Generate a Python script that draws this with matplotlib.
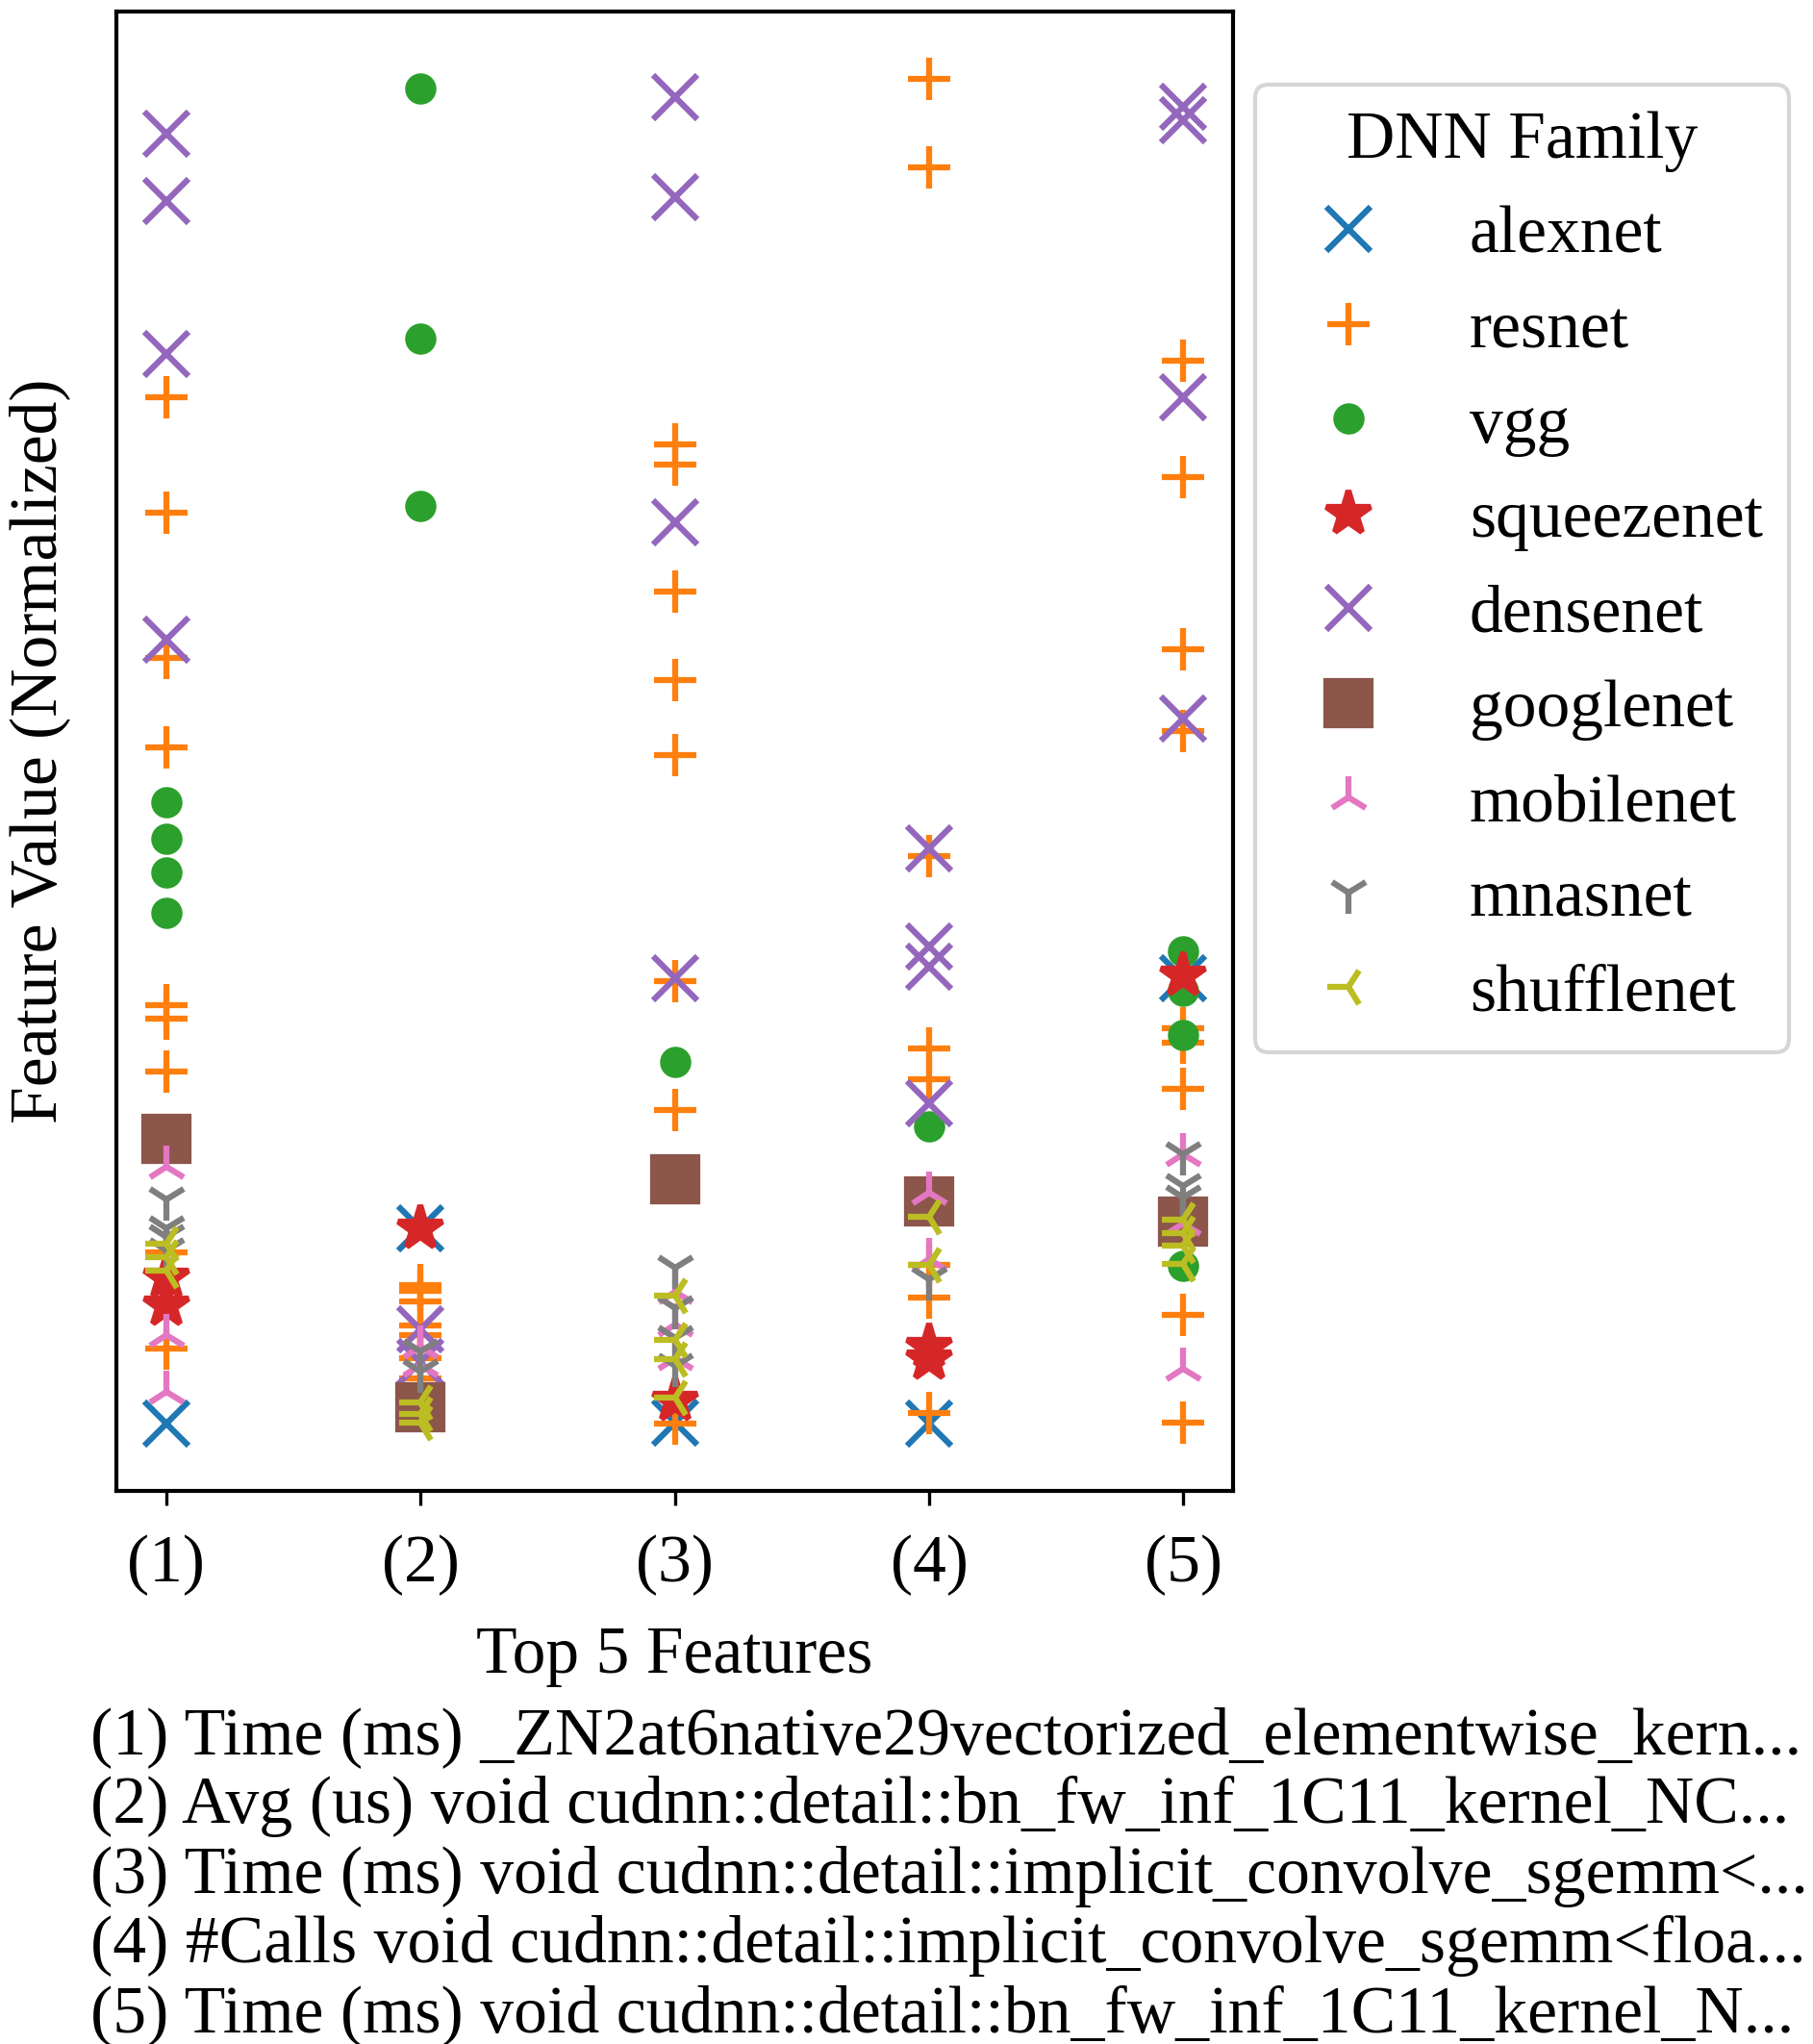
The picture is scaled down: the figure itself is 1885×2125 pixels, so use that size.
import matplotlib
matplotlib.use("Agg")
import matplotlib.pyplot as plt

plt.rcParams["font.family"] = "serif"
plt.rcParams["font.serif"] = ["Liberation Serif", "DejaVu Serif"]
plt.rcParams["font.size"] = 16.7

FEATURES = ["(1)", "(2)", "(3)", "(4)", "(5)"]
FEATURE_NAMES = [
    "(1) Time (ms) _ZN2at6native29vectorized_elementwise_kern...",
    "(2) Avg (us) void cudnn::detail::bn_fw_inf_1C11_kernel_NC...",
    "(3) Time (ms) void cudnn::detail::implicit_convolve_sgemm<...",
    "(4) #Calls void cudnn::detail::implicit_convolve_sgemm<floa...",
    "(5) Time (ms) void cudnn::detail::bn_fw_inf_1C11_kernel_N...",
]

# normalized feature values, one list per feature (1)..(5)
alexnet = [[0.000], [0.145], [0.001], [0.000], [0.331]]
resnet = [
    [0.763, 0.677, 0.569, 0.503, 0.311, 0.301, 0.262, 0.127, 0.056],
    [0.103, 0.099, 0.091, 0.073, 0.066, 0.049, 0.034],
    [0.728, 0.713, 0.619, 0.553, 0.497, 0.329, 0.233, 0.000],
    [1.000, 0.934, 0.422, 0.279, 0.256, 0.118, 0.094, 0.008],
    [0.790, 0.704, 0.576, 0.515, 0.294, 0.283, 0.249, 0.081, 0.001],
]
vgg = [
    [0.462, 0.435, 0.410, 0.380],
    [0.993, 0.807, 0.682],
    [0.269],
    [0.221],
    [0.351, 0.322, 0.289, 0.117],
]
squeezenet = [[0.109, 0.088], [0.145], [0.017], [0.057, 0.048], [0.333]]
densenet = [
    [0.959, 0.909, 0.795, 0.583],
    [0.070, 0.046],
    [0.986, 0.912, 0.670, 0.331],
    [0.428, 0.355, 0.340, 0.238],
    [0.979, 0.969, 0.763, 0.524],
]
googlenet = [[0.212], [0.012], [0.182], [0.165], [0.150]]
mobilenet = [
    [0.191, 0.066, 0.024],
    [0.057, 0.044],
    [0.098, 0.074, 0.049],
    [0.172, 0.122],
    [0.200, 0.149, 0.041],
]
mnasnet = [
    [0.167, 0.145, 0.139, 0.129],
    [0.054, 0.039],
    [0.116, 0.086, 0.064, 0.043],
    [0.107],
    [0.200, 0.177, 0.168],
]
shufflenet = [
    [0.134, 0.124, 0.114],
    [0.016, 0.007, 0.001],
    [0.095, 0.062, 0.048, 0.019],
    [0.154, 0.118],
    [0.152, 0.142, 0.132, 0.119],
]

FAMILIES = {
    "alexnet": alexnet, "resnet": resnet, "vgg": vgg, "squeezenet": squeezenet,
    "densenet": densenet, "googlenet": googlenet, "mobilenet": mobilenet,
    "mnasnet": mnasnet, "shufflenet": shufflenet,
}
STYLE = {
    "alexnet":    ("x", 11),
    "resnet":     ("+", 10.5),
    "vgg":        ("o", 6.3),
    "squeezenet": ("*", 11.5),
    "densenet":   ("x", 11),
    "googlenet":  ("s", 11),
    "mobilenet":  ("2", 10.5),
    "mnasnet":    ("1", 10.5),
    "shufflenet": ("3", 10.5),
}

fig = plt.figure(figsize=(1885 / 300, 2125 / 300), dpi=300)
ax = fig.add_axes([0.0642, 0.2706, 0.6159, 0.7238])

for i, (name, data) in enumerate(FAMILIES.items()):
    xs = [k + 1 for k, vals in enumerate(data) for _ in vals]
    ys = [v for vals in data for v in vals]
    marker, ms = STYLE[name]
    ax.plot(xs, ys, linestyle="none", marker=marker, ms=ms, mew=1.5,
            color=f"C{i}", label=name)

ax.set_xlim(0.805, 5.195)
ax.set_xticks(range(1, 6))
ax.set_xticklabels(FEATURES)
ax.tick_params(axis="x", pad=7.5)
ax.set_yticks([])
ax.set_xlabel("Top 5 Features", labelpad=7.5)
ax.set_ylabel("Feature Value (Normalized)", labelpad=11.5)
for s in ax.spines.values():
    s.set_linewidth(1.0)

fig.legend(title="DNN Family", loc="upper left", bbox_to_anchor=(0.6923, 0.9586),
           borderaxespad=0, title_fontsize=16.7)

for k, line in enumerate(FEATURE_NAMES):
    fig.text(0.05, 1 - (1806 + k * 72.3) / 2125, line, ha="left", va="center",
             fontsize=16.75)

fig.savefig("out.png", dpi=300)
